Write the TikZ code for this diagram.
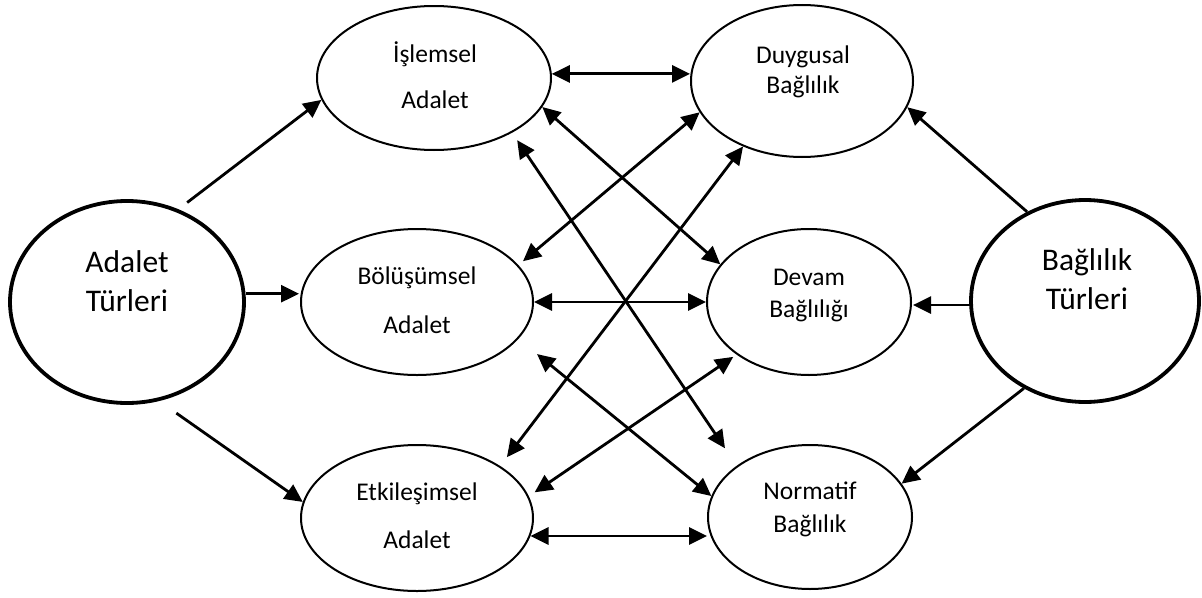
\documentclass[tikz,border=0pt]{standalone}
\usepackage{fontspec}
\setmainfont{Carlito}
\usetikzlibrary{arrows.meta,shapes.geometric}
\begin{document}
\begin{tikzpicture}[x=1pt,y=-1pt,
  oval/.style={draw,ellipse,line width=2pt,inner sep=0pt},
  bigoval/.style={draw,ellipse,line width=3.8pt,inner sep=0pt},
  lbl/.style={anchor=base,inner sep=0pt,font=\fontsize{25.5}{30}\selectfont},
  biglbl/.style={anchor=base,inner sep=0pt,font=\fontsize{31.5}{37}\selectfont},
  tip/.tip={Triangle[length=18pt,width=17pt]},
  con/.style={line width=2.8pt,-tip},
  bicon/.style={line width=2.8pt,tip-tip}]
\fill[white] (0,0) rectangle (1202,597);
\useasboundingbox (0,0) rectangle (1202,597);

% the two umbrella concepts
\node[bigoval,minimum width=234pt,minimum height=202pt] (AT) at (127,302) {};
\node[bigoval,minimum width=228pt,minimum height=202pt] (BT) at (1085,301) {};
\node[biglbl] (ATa) at (127,272) {Adalet};
\node[biglbl] (ATb) at (127,311) {Türleri};
\node[biglbl] (BTa) at (1087,270) {Bağlılık};
\node[biglbl] (BTb) at (1087,309) {Türleri};

% justice dimensions
\node[oval,minimum width=234pt,minimum height=144pt] (ISL) at (434,78) {};
\node[oval,minimum width=232pt,minimum height=146pt] (BOL) at (417,302) {};
\node[oval,minimum width=232pt,minimum height=146pt] (ETK) at (417,518) {};
\node[lbl] (ISLa) at (435,62) {İşlemsel};
\node[lbl] (ISLb) at (435,108) {Adalet};
\node[lbl] (BOLa) at (417,284) {Bölüşümsel};
\node[lbl] (BOLb) at (417,333) {Adalet};
\node[lbl] (ETKa) at (417,500) {Etkileşimsel};
\node[lbl] (ETKb) at (417,548) {Adalet};

% commitment dimensions
\node[oval,minimum width=222pt,minimum height=152pt] (DUY) at (802,81) {};
\node[oval,minimum width=204pt,minimum height=146pt] (DEV) at (809,302) {};
\node[oval,minimum width=204pt,minimum height=144pt] (NOR) at (810,517) {};
\node[lbl] (DUYa) at (803,63) {Duygusal};
\node[lbl] (DUYb) at (803,93) {Bağlılık};
\node[lbl] (DEVa) at (809,285) {Devam};
\node[lbl] (DEVb) at (809,317) {Bağlılığı};
\node[lbl] (NORa) at (810,499) {Normatif};
\node[lbl] (NORb) at (810,532) {Bağlılık};

% from the justice umbrella
\draw[con,shorten <=11pt] (AT.61.7) -- (ISL.191.4);
\draw[con,shorten >=1pt] (AT.4.4) -- (AT.4.4 -| BOL.west);
\draw[con,shorten <=21pt] (AT.-72.9) -- (ETK.172);

% from the commitment umbrella
\draw[con] (BT.123.1) -- (DUY.-14.7);
\draw[con,shorten >=1pt] (BT.182.4) -- (BT.182.4 -| DEV.east);
\draw[con] (BT.235.2) -- (NOR.20.3);

% mutual links between the dimensions
\draw[bicon] (ISL.2.5) -- (ISL.2.5 -| DUY.west);
\draw[bicon] (ISL.-15.7) -- (DEV.157);
\draw[bicon,shorten <=9pt,shorten >=21pt] (ISL.-35.7) -- (NOR.145.8);
\draw[bicon,shorten >=6pt] (DUY.197.2) -- (BOL.20.2);
\draw[bicon,shorten >=11pt] (DUY.228.3) -- (ETK.32.7);
\draw[bicon] (BOL.0) -- (DEV.180);
\draw[bicon,shorten <=24pt] (BOL.-20.9) -- (NOR.168.5);
\draw[bicon,shorten <=7pt,shorten >=4pt] (ETK.11.4) -- (DEV.216.7);
\draw[bicon] (ETK.-9.2) -- (ETK.-9.2 -| NOR.west);
\end{tikzpicture}
\end{document}
